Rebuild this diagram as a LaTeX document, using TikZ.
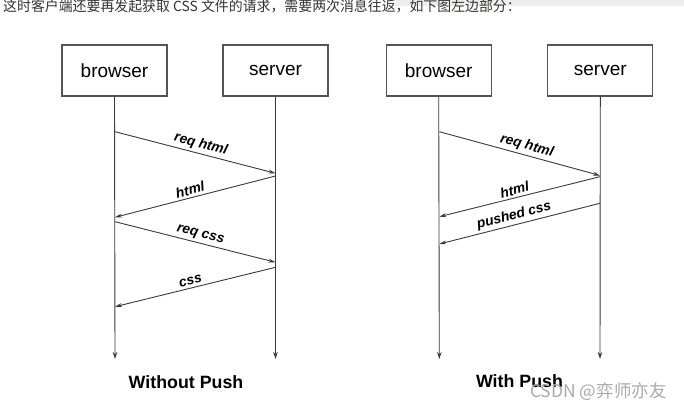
\documentclass[tikz,border=0pt]{standalone}
\usepackage{fontspec}
\setmainfont{Liberation Sans}
\newfontfamily\cjk{Noto Sans CJK SC}
\usetikzlibrary{arrows.meta}
\definecolor{linec}{HTML}{3A3A3A}
\definecolor{boxc}{HTML}{555555}
\definecolor{txtc}{HTML}{333333}
\tikzset{
  actor/.style={draw=boxc, line width=1.1pt, minimum width=105pt, minimum height=51pt, inner sep=0pt, font=\fontsize{19}{22}\selectfont, text=black},
  life/.style={draw=linec, line width=0.9pt, -{Stealth[length=7pt,width=4.5pt]}},
  msg/.style={draw=linec, line width=0.9pt, -{Stealth[length=7pt,width=4pt]}},
  lbl/.style={sloped, above, inner sep=2.5pt, font=\fontsize{13.8}{15}\selectfont\bfseries\itshape, text=black},
  ttl/.style={font=\fontsize{17.8}{20}\selectfont\bfseries, text=black, inner sep=0pt}
}
\begin{document}
\begin{tikzpicture}[x=1pt,y=-1pt]
\useasboundingbox (0,0) rectangle (684,411);
\fill[white] (0,0) rectangle (684,411);
\fill[color={rgb,255:red,239;green,237;blue,235}] (395,0) rectangle (684,6);
\node[anchor=base west, inner sep=0pt, text=txtc, font=\cjk\fontsize{13.9}{15}\selectfont] (intro) at (3,12) {这时客户端还要再发起获取 CSS 文件的请求，需要两次消息往返，如下图左边部分：};

% left diagram
\node[actor] (b1) at (114.5,70.5) {browser};
\node[actor] (s1) at (275.5,70.5) {server};
\coordinate (b1end) at (115,359);
\coordinate (s1end) at (275.5,359);
\draw[life] (b1.south) -- (b1end);
\draw[life] (s1.south) -- (s1end);
\coordinate (l1a) at (115,131.7);
\coordinate (l1b) at (275.5,173.3);
\coordinate (l2a) at (275.5,176);
\coordinate (l2b) at (115,217.3);
\coordinate (l3a) at (115,221.7);
\coordinate (l3b) at (275.5,262.3);
\coordinate (l4a) at (275.5,267.3);
\coordinate (l4b) at (115,306.7);
\draw[msg] (l1a) -- node[lbl, pos=0.52] {req html} (l1b);
\draw[msg] (l2a) -- node[lbl, pos=0.52] {html} (l2b);
\draw[msg] (l3a) -- node[lbl, pos=0.52] {req css} (l3b);
\draw[msg] (l4a) -- node[lbl, pos=0.52] {css} (l4b);
\node[ttl] (t1) at (186,382) {Without Push};

% right diagram
\node[actor] (b2) at (438.7,70.5) {browser};
\node[actor] (s2) at (600.3,70.5) {server};
\coordinate (b2end) at (439.3,359);
\coordinate (s2end) at (600,359);
\draw[life] (b2.south) -- (b2end);
\draw[life] (s2.south) -- (s2end);
\coordinate (r1a) at (439.3,131.7);
\coordinate (r1b) at (600,175.5);
\coordinate (r2a) at (600,176.7);
\coordinate (r2b) at (439.3,216.7);
\coordinate (r3a) at (600,203.3);
\coordinate (r3b) at (439.3,244);
\draw[msg] (r1a) -- node[lbl, pos=0.53] {req html} (r1b);
\draw[msg] (r2a) -- node[lbl, pos=0.52] {html} (r2b);
\draw[msg] (r3a) -- node[lbl, pos=0.52] {pushed css} (r3b);
\node[ttl] (t2) at (519.5,381) {With Push};

% watermark
\node[anchor=west, inner sep=0pt, text={rgb,255:red,170;green,170;blue,170}, font=\cjk\fontsize{17.5}{19}\selectfont] (wm) at (530,392) {CSDN @弈师亦友};
\end{tikzpicture}
\end{document}
